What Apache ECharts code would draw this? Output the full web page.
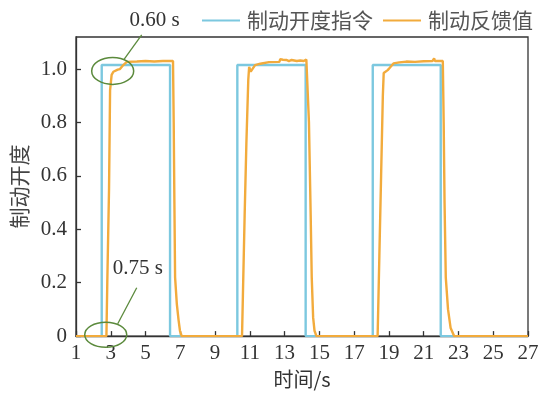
<!DOCTYPE html>
<html>
<head>
<meta charset="utf-8">
<script src="https://cdn.jsdelivr.net/npm/echarts@6/dist/echarts.min.js"></script>
<style>html,body{margin:0;padding:0;background:#fff}#c{width:546px;height:394px}</style>
</head>
<body>
<div id="c"></div>
<script>
// Data
var cmdName = '制动开度指令';
var fbName = '制动反馈值';
var cmdTime  = [1, 2.48, 2.48, 6.41, 6.41, 10.28, 10.28, 14.21, 14.21, 18.07, 18.07, 21.98, 21.98, 27];
var cmdValue = [0, 0, 1.015, 1.015, 0, 0, 1.015, 1.015, 0, 0, 1.015, 1.015, 0, 0];
var fbTime = [1, 2.75, 2.8, 2.9, 2.96, 3.05, 3.15, 3.24, 3.4, 3.53, 3.72, 3.92, 4.5, 5.0, 5.5, 6.0, 6.58, 6.62, 6.66, 6.7, 6.8, 6.9, 6.98, 7.08,
  10.55, 10.6, 10.7, 10.8, 10.91, 10.96, 11.05, 11.14, 11.3, 11.6, 12.1, 12.7, 12.75, 12.8, 12.9, 13.0, 13.1, 13.25, 13.4, 13.5, 13.7, 13.9, 14.1, 14.25, 14.3, 14.4, 14.5, 14.56, 14.64, 14.72, 14.83,
  18.35, 18.45, 18.55, 18.65, 18.7, 18.8, 18.93, 19.05, 19.26, 19.6, 20.0, 20.5, 21.0, 21.5, 21.6, 21.65, 22.1, 22.15, 22.2, 22.27, 22.4, 22.55, 22.75, 27];
var fbValue = [0, 0, 0.2, 0.55, 0.92, 0.978, 0.99, 0.996, 0.998, 1.0, 1.015, 1.027, 1.028, 1.03, 1.028, 1.03, 1.03, 0.8, 0.5, 0.22, 0.12, 0.06, 0.02, 0,
  0, 0.15, 0.45, 0.72, 0.96, 1.008, 0.99, 0.984, 1.015, 1.02, 1.026, 1.027, 1.037, 1.03, 1.035, 1.029, 1.034, 1.03, 1.034, 1.028, 1.03, 1.032, 1.03, 1.036, 1.03, 0.8, 0.45, 0.22, 0.07, 0.02, 0,
  0, 0.3, 0.6, 0.9, 0.985, 0.99, 0.996, 1.005, 1.021, 1.025, 1.028, 1.027, 1.029, 1.03, 1.04, 1.03, 1.03, 0.8, 0.5, 0.22, 0.1, 0.03, 0, 0];
var xTicks = {min: 1, max: 27, step: 2};
var yTicks = {min: 0, max: 1.12, step: 0.2};
var notes = [
  {text: '0.60 s', t: 3.11, v: 0.993},
  {text: '0.75 s', t: 2.71, v: 0.005}
];

function pairs(xs, ys){ return xs.map(function(x,i){ return [x, ys[i]]; }); }

var serif = '"Liberation Serif", "Times New Roman", serif';
var cjk = '"Noto Sans CJK SC", sans-serif';
var chart = echarts.init(document.getElementById('c'));
chart.setOption({
  animation: false,
  backgroundColor: '#fff',
  grid: {left: 76, right: 18, top: 37, bottom: 54, show: true, borderColor: '#333', borderWidth: 1.3, backgroundColor: 'transparent'},
  legend: {
    left: 197, top: 5, itemWidth: 38, itemHeight: 2, icon: 'rect', itemGap: 10,
    textStyle: {fontFamily: cjk, fontSize: 21, color: '#555', padding: [0,0,0,2]},
    data: [cmdName, fbName]
  },
  xAxis: {
    type: 'value', min: xTicks.min, max: xTicks.max, interval: xTicks.step,
    name: '时间/s', nameLocation: 'middle', nameGap: 26,
    nameTextStyle: {fontFamily: cjk, fontSize: 20, color: '#333'},
    axisLine: {lineStyle: {color: '#333', width: 1.3}},
    axisTick: {inside: true, length: 5, lineStyle: {color: '#333', width: 1.3}},
    axisLabel: {fontFamily: serif, fontSize: 21, color: '#333', margin: 7},
    splitLine: {show: false}
  },
  yAxis: {
    type: 'value', min: yTicks.min, max: yTicks.max, interval: yTicks.step,
    name: '制动开度', nameLocation: 'middle', nameGap: 42, nameRotate: 90,
    nameTextStyle: {fontFamily: cjk, fontSize: 21, color: '#444'},
    axisLine: {lineStyle: {color: '#333', width: 1.3}},
    axisTick: {inside: true, length: 5, lineStyle: {color: '#333', width: 1.3}},
    axisLabel: {fontFamily: serif, fontSize: 21, color: '#333', margin: 9, showMaxLabel: false,
      formatter: function(v){ return v === 0 ? '0' : v.toFixed(1); }},
    splitLine: {show: false}
  },
  series: [
    {name: cmdName, type: 'line', data: pairs(cmdTime, cmdValue), symbol: 'none', color: '#7cc8df',
      lineStyle: {width: 2.4, color: '#7cc8df'}, z: 2},
    {name: fbName, type: 'line', data: pairs(fbTime, fbValue), symbol: 'none', color: '#f2ab3c',
      lineStyle: {width: 2.4, color: '#f2ab3c'}, z: 3}
  ]
});

var p1 = chart.convertToPixel({gridIndex: 0}, [notes[0].t, notes[0].v]);
var p2 = chart.convertToPixel({gridIndex: 0}, [notes[1].t, notes[1].v]);
var green = '#5b8a3c';
chart.setOption({
  graphic: [
    {type: 'ellipse', shape: {cx: p1[0], cy: p1[1], rx: 21, ry: 13.5}, style: {fill: 'none', stroke: green, lineWidth: 1.5}, z: 10},
    {type: 'line', shape: {x1: p1[0] + 11, y1: p1[1] - 11, x2: p1[0] + 29, y2: p1[1] - 36}, style: {stroke: green, lineWidth: 1.3}, z: 10},
    {type: 'text', style: {text: notes[0].text, x: p1[0] + 42, y: 20, align: 'center', verticalAlign: 'middle', font: '21px ' + serif, fill: '#333'}, z: 10},
    {type: 'ellipse', shape: {cx: p2[0], cy: p2[1], rx: 21, ry: 12.5}, style: {fill: 'none', stroke: green, lineWidth: 1.5}, z: 10},
    {type: 'line', shape: {x1: p2[0] + 12, y1: p2[1] - 11, x2: p2[0] + 31, y2: p2[1] - 47}, style: {stroke: green, lineWidth: 1.3}, z: 10},
    {type: 'text', style: {text: notes[1].text, x: p2[0] + 32, y: 268, align: 'center', verticalAlign: 'middle', font: '21px ' + serif, fill: '#333'}, z: 10}
  ]
});
</script>
</body>
</html>
